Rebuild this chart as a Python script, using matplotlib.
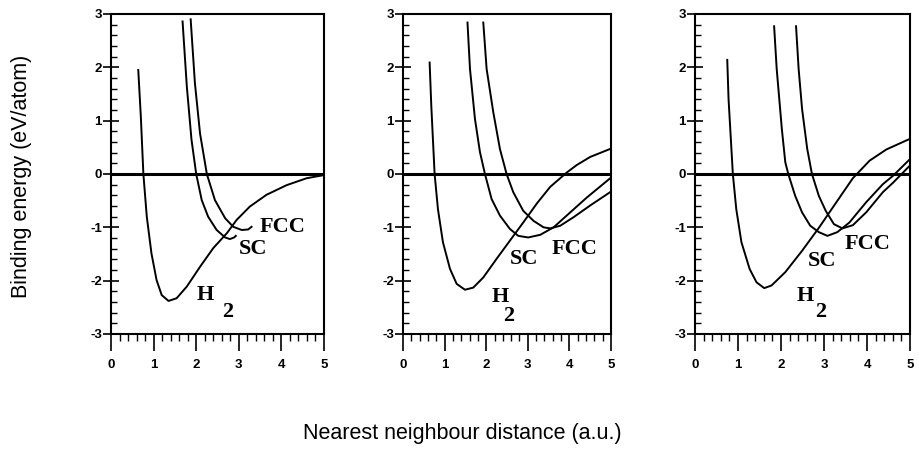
import numpy as np
import matplotlib
matplotlib.use('Agg')
import matplotlib.pyplot as plt
from matplotlib.ticker import MultipleLocator

# ---- data (x: a.u., y: eV/atom) ----
# panel 1
h2_x_1 = [0.64, 0.70, 0.76, 0.84, 0.95, 1.07, 1.19, 1.35, 1.54, 1.78, 2.09, 2.40, 2.72, 2.95, 3.26, 3.65, 4.12, 4.59, 5.00]
h2_y_1 = [1.95, 1.08, 0.00, -0.80, -1.49, -1.99, -2.27, -2.38, -2.33, -2.11, -1.74, -1.39, -1.11, -0.86, -0.61, -0.39, -0.21, -0.08, -0.02]
sc_x_1 = [1.68, 1.78, 1.89, 2.00, 2.13, 2.28, 2.48, 2.68, 2.79, 2.89, 2.93]
sc_y_1 = [2.86, 1.64, 0.64, 0.00, -0.49, -0.80, -1.05, -1.19, -1.22, -1.19, -1.16]
fcc_x_1 = [1.87, 1.97, 2.09, 2.25, 2.44, 2.68, 2.87, 3.07, 3.22, 3.30]
fcc_y_1 = [2.90, 1.70, 0.76, 0.00, -0.49, -0.83, -0.99, -1.05, -1.04, -0.99]

# panel 2
h2_x_2 = [0.64, 0.68, 0.76, 0.84, 0.96, 1.13, 1.29, 1.49, 1.69, 1.93, 2.25, 2.57, 2.89, 3.22, 3.54, 3.94, 4.18, 4.50, 4.98]
h2_y_2 = [2.09, 1.28, 0.00, -0.66, -1.28, -1.78, -2.06, -2.17, -2.13, -1.94, -1.59, -1.25, -0.91, -0.55, -0.24, 0.03, 0.17, 0.32, 0.47]
sc_x_2 = [1.55, 1.61, 1.73, 1.85, 1.97, 2.13, 2.33, 2.57, 2.77, 3.01, 3.30, 3.62, 4.02, 4.42, 4.98]
sc_y_2 = [2.84, 1.97, 1.03, 0.41, 0.00, -0.47, -0.78, -1.03, -1.16, -1.19, -1.14, -1.00, -0.72, -0.44, -0.08]
fcc_x_2 = [1.93, 2.01, 2.17, 2.33, 2.49, 2.65, 2.89, 3.14, 3.38, 3.54, 3.78, 4.10, 4.50, 4.98]
fcc_y_2 = [2.84, 1.97, 1.16, 0.47, 0.00, -0.34, -0.69, -0.88, -1.00, -1.02, -0.97, -0.81, -0.59, -0.34]

# panel 3
h2_x_3 = [0.75, 0.78, 0.88, 0.96, 1.08, 1.27, 1.43, 1.61, 1.78, 2.10, 2.49, 2.88, 3.27, 3.67, 4.06, 4.45, 5.00]
h2_y_3 = [2.14, 1.41, 0.00, -0.66, -1.28, -1.78, -2.03, -2.14, -2.09, -1.84, -1.44, -1.01, -0.55, -0.08, 0.25, 0.46, 0.66]
sc_x_3 = [1.84, 1.90, 2.02, 2.10, 2.17, 2.33, 2.49, 2.68, 2.88, 3.08, 3.31, 3.59, 3.98, 4.37, 4.61, 5.00]
sc_y_3 = [2.77, 1.97, 0.84, 0.22, 0.00, -0.41, -0.72, -0.97, -1.09, -1.16, -1.09, -0.91, -0.53, -0.19, -0.03, 0.28]
fcc_x_3 = [2.35, 2.41, 2.49, 2.61, 2.72, 2.88, 3.04, 3.23, 3.43, 3.67, 3.98, 4.37, 4.61, 5.00]
fcc_y_3 = [2.77, 1.97, 1.22, 0.47, 0.00, -0.41, -0.69, -0.94, -1.02, -0.96, -0.72, -0.34, -0.16, 0.16]

# label anchors (left x, centre y) per panel
lab_fcc = [(3.50, -0.99), (3.57, -1.41), (3.49, -1.31)]
lab_sc = [(2.99, -1.41), (2.56, -1.59), (2.63, -1.63)]
lab_h = [(2.01, -2.27), (2.13, -2.31), (2.36, -2.28)]
lab_sub = [(2.60, -2.58), (2.40, -2.66), (2.79, -2.59)]

panels = [
    (h2_x_1, h2_y_1, sc_x_1, sc_y_1, fcc_x_1, fcc_y_1),
    (h2_x_2, h2_y_2, sc_x_2, sc_y_2, fcc_x_2, fcc_y_2),
    (h2_x_3, h2_y_3, sc_x_3, sc_y_3, fcc_x_3, fcc_y_3),
]

W, H = 919, 449
fig = plt.figure(figsize=(W / 100, H / 100), dpi=100)

# axes boxes in pixels: left, right ; top, bottom
boxes = [(111, 324), (403, 611), (695, 910)]
top, bot = 14, 334

tickfont = dict(family='Liberation Sans', size=9.5, weight='bold')
labfont = dict(family='Liberation Serif', size=16, weight='bold')

for i, (l, r) in enumerate(boxes):
    ax = fig.add_axes([l / W, (H - bot) / H, (r - l) / W, (bot - top) / H])
    hx, hy, sx, sy, fx, fy = panels[i]
    for xs, ys in [(hx, hy), (sx, sy), (fx, fy)]:
        ax.plot(xs, ys, color='k', lw=1.4, solid_joinstyle='round')
    ax.axhline(0, color='k', lw=2.2)

    ax.set_xlim(0, 5)
    ax.set_ylim(-3, 3)
    ax.xaxis.set_major_locator(MultipleLocator(1))
    ax.xaxis.set_minor_locator(MultipleLocator(0.2))
    ax.yaxis.set_major_locator(MultipleLocator(1))
    ax.yaxis.set_minor_locator(MultipleLocator(0.2))
    ax.tick_params(axis='x', which='major', direction='out', length=12, width=1.2, pad=6)
    ax.tick_params(axis='x', which='minor', direction='out', length=5, width=1.0)
    ax.tick_params(axis='y', which='major', direction='inout', length=11, width=1.2, pad=1)
    ax.tick_params(axis='y', which='minor', direction='in', length=4, width=1.0)
    for s in ax.spines.values():
        s.set_linewidth(1.5)
    ax.set_xticks(range(6))
    ax.set_xticklabels([str(v) for v in range(6)], fontdict=tickfont)
    ax.set_yticks(range(-3, 4))
    ax.set_yticklabels([str(v) for v in range(-3, 4)], fontdict=tickfont)

    ax.text(*lab_fcc[i], 'FCC', ha='left', va='center', **labfont)
    ax.text(*lab_sc[i], 'SC', ha='left', va='center', **labfont)
    ax.text(*lab_h[i], 'H', ha='left', va='center', **labfont)
    ax.text(*lab_sub[i], '2', ha='left', va='center', **labfont)

fig.text(22 / W, (H - 176) / H, 'Binding energy (eV/atom)', rotation=90,
         ha='center', va='center', family='Liberation Sans', size=15.5)
fig.text(462 / W, (H - 433) / H, 'Nearest neighbour distance (a.u.)',
         ha='center', va='center', family='Liberation Sans', size=15.5)

fig.savefig('out.png', dpi=100)
